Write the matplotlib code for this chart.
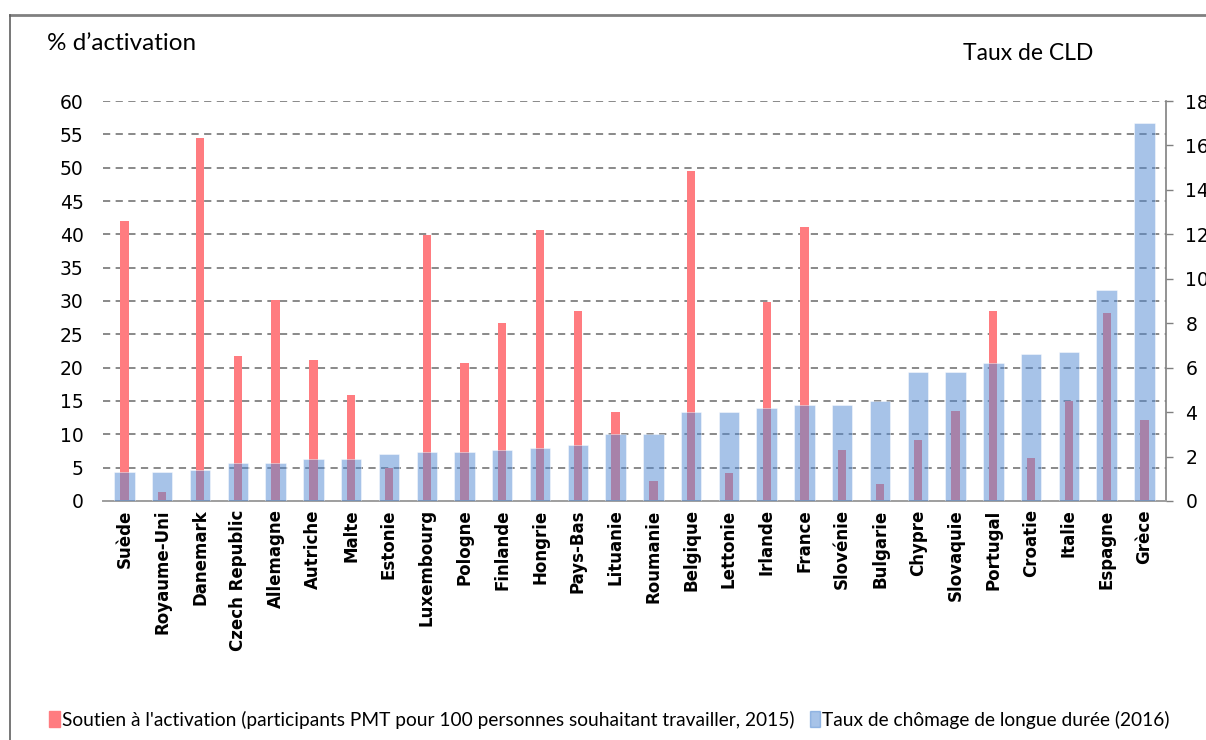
import numpy as np
import matplotlib.pyplot as plt
from matplotlib.lines import Line2D
from matplotlib.patches import Patch

# Countries (x categories)
countries = ['Suède', 'Royaume-Uni', 'Danemark', 'Czech Republic', 'Allemagne',
             'Autriche', 'Malte', 'Estonie', 'Luxembourg', 'Pologne', 'Finlande',
             'Hongrie', 'Pays-Bas', 'Lituanie', 'Roumanie', 'Belgique', 'Lettonie',
             'Irlande', 'France', 'Slovénie', 'Bulgarie', 'Chypre', 'Slovaquie',
             'Portugal', 'Croatie', 'Italie', 'Espagne', 'Grèce']

# Activation support (left axis, %)
activation = [42.0, 1.4, 54.4, 21.7, 30.2, 21.1, 15.9, 5.0, 39.9, 20.7, 26.7,
              40.6, 28.5, 13.3, 3.0, 49.5, 4.2, 29.8, 41.1, 7.7, 2.6, 9.2,
              13.5, 28.5, 6.4, 15.0, 28.2, 12.1]

# Long-term unemployment rate (right axis, %)
cld_rate = [1.3, 1.3, 1.4, 1.7, 1.7, 1.9, 1.9, 2.1, 2.2, 2.2, 2.3, 2.4, 2.5,
            3.0, 3.0, 4.0, 4.0, 4.2, 4.3, 4.3, 4.5, 5.8, 5.8, 6.2, 6.6, 6.7,
            9.5, 17.0]

plt.rcParams['font.family'] = 'DejaVu Sans'

red = '#FF7C80'
blue = '#5189D3'
narrow = ['Liberation Sans Narrow', 'Lato', 'DejaVu Sans']

fig = plt.figure(figsize=(12.06, 7.4), dpi=100)
ax = fig.add_axes([0.0854, 0.323, 0.8814, 0.5405])
ax2 = ax.twinx()

x = np.arange(len(countries))

# grid + red bars on left axis
ax.set_ylim(0, 60)
ax.set_yticks(np.arange(0, 61, 5))
ax.yaxis.grid(True, linestyle=(0, (4, 3)), color='#808080', linewidth=1.3)
ax.set_axisbelow(True)
ax.bar(x, activation, width=0.22, color=red, zorder=2)

# blue bars on right axis, semi-transparent over red
ax2.set_ylim(0, 18)
ax2.set_yticks(np.arange(0, 19, 2))
ax2.bar(x, cld_rate, width=0.54, color=blue, alpha=0.5, edgecolor='white',
        linewidth=0.6, zorder=3)

ax.set_xlim(-0.57, len(countries) - 0.43)
ax.set_xticks(x)
ax.set_xticklabels(countries, rotation=90, fontsize=12, fontweight='bold',
                   family='DejaVu Sans')
ax.tick_params(axis='x', length=0, pad=6)
ax.tick_params(axis='y', length=0, labelsize=13.5, pad=14)
ax2.tick_params(axis='y', labelsize=13.5, color='#808080', length=5, width=1, pad=9)

for a in (ax, ax2):
    for s in ('top', 'left'):
        a.spines[s].set_visible(False)
    a.spines['bottom'].set_color('#A0A0A0')
    a.spines['bottom'].set_linewidth(1.3)
ax.spines['right'].set_visible(False)
ax2.spines['right'].set_color('#808080')
ax2.spines['right'].set_linewidth(1.2)

# axis titles
fig.text(47 / 1206, 1 - 44 / 740, '% d\u2019activation', fontsize=17.5, family=narrow,
         va='center', ha='left')
fig.text(963 / 1206, 1 - 54 / 740, 'Taux de CLD', fontsize=16.5, family=narrow,
         va='center', ha='left')

# frame around chart
fig.add_artist(Line2D([10 / 1206, 1], [1 - 15 / 740, 1 - 15 / 740],
                      color='#808080', linewidth=2))
fig.add_artist(Line2D([10 / 1206, 10 / 1206], [0, 1 - 15 / 740],
                      color='#606060', linewidth=1.2))

handles = [Patch(color=red),
           Patch(color=blue, alpha=0.5)]
labels = ["Soutien à l'activation (participants PMT pour 100 personnes souhaitant travailler, 2015)",
          'Taux de chômage de longue durée (2016)']
fig.legend(handles, labels, loc='center left', bbox_to_anchor=(32 / 1206, 1 - 720 / 740),
           ncol=2, frameon=False, handlelength=0.55, handleheight=0.9,
           handletextpad=0.1, columnspacing=0.8, prop={'family': narrow, 'size': 13.8})

fig.savefig('out.png', dpi=100)
